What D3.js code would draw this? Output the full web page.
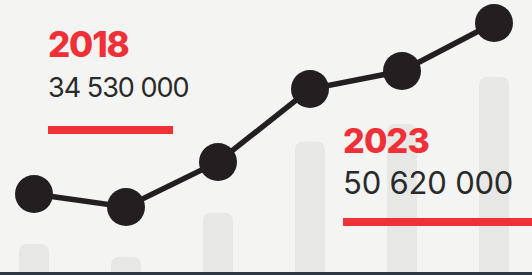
<!DOCTYPE html>
<html>
<head>
<meta charset="utf-8">
<script src="https://cdn.jsdelivr.net/npm/d3@7"></script>
<style>
  html, body { margin: 0; padding: 0; background: #f4f4f2; }
  svg { display: block; }
</style>
</head>
<body>
<div id="chart"></div>
<script>
// Chart size
var svgWidth = 532;
var svgHeight = 275;

// Data
var years = [2018, 2019, 2020, 2021, 2022, 2023];
var values = [34530000, 33310000, 37540000, 44410000, 46100000, 50620000];

// Which points get a callout
var callouts = [
  {year: 2018, x: 48, y: 57, lineWidth: 125},
  {year: 2023, x: 343, y: 153, lineWidth: 200}
];

var svg = d3.select("#chart")
  .append("svg")
  .attr("width", svgWidth)
  .attr("height", svgHeight);

// x position for each year
var xScale = d3.scalePoint()
  .domain(years)
  .range([34, 494]);

// line scale
var yScale = d3.scaleLinear()
  .domain([34530000, 50620000])
  .range([194, 23]);

// background bars use same values, starting from a higher floor
var barScale = d3.scaleLinear()
  .domain([31830000, 50620000])
  .range([272, 77]);

var barWidth = 30;

// background bars
svg.append("g")
  .selectAll("rect")
  .data(years)
  .enter()
  .append("rect")
  .attr("x", d => xScale(d) - barWidth / 2)
  .attr("y", (d, i) => barScale(values[i]))
  .attr("width", barWidth)
  .attr("height", (d, i) => 290 - barScale(values[i]))
  .attr("rx", 8)
  .attr("fill", "#e7e7e6");

// line
var line = d3.line()
  .x((d, i) => xScale(years[i]))
  .y(d => yScale(d));

svg.append("path")
  .datum(values)
  .attr("d", line)
  .attr("fill", "none")
  .attr("stroke", "#231f20")
  .attr("stroke-width", 5.5);

// points
svg.append("g")
  .selectAll("circle")
  .data(values)
  .enter()
  .append("circle")
  .attr("cx", (d, i) => xScale(years[i]))
  .attr("cy", d => yScale(d))
  .attr("r", 19)
  .attr("fill", "#231f20");

// callouts
var fmt = v => d3.format(",")(v).replace(/,/g, " ");

callouts.forEach(function(c) {
  var v = values[years.indexOf(c.year)];
  var big = c.year === 2023;
  var g = svg.append("g");

  g.append("text")
    .attr("x", c.x)
    .attr("y", c.y)
    .attr("fill", "#ef3137")
    .style("font-family", "Inter, sans-serif")
    .style("font-weight", 800)
    .style("font-size", big ? "34px" : "35px")
    .style("letter-spacing", big ? "-0.8px" : "-1.2px")
    .text(c.year);

  g.append("text")
    .attr("x", c.x)
    .attr("y", c.y + (big ? 41 : 40))
    .attr("fill", "#2a2a2a")
    .style("font-family", "Inter, sans-serif")
    .style("font-weight", 400)
    .style("font-size", big ? "31px" : "27px")
    .style("letter-spacing", big ? "-0.2px" : "-1px")
    .text(fmt(v));

  g.append("rect")
    .attr("x", c.x)
    .attr("y", c.y + (big ? 65 : 69))
    .attr("width", c.lineWidth)
    .attr("height", 8)
    .attr("fill", "#ef3137");
});

// dark strip at the bottom
svg.append("rect")
  .attr("x", 0)
  .attr("y", 272)
  .attr("width", svgWidth)
  .attr("height", 3)
  .attr("fill", "#2e3744");
</script>
</body>
</html>
